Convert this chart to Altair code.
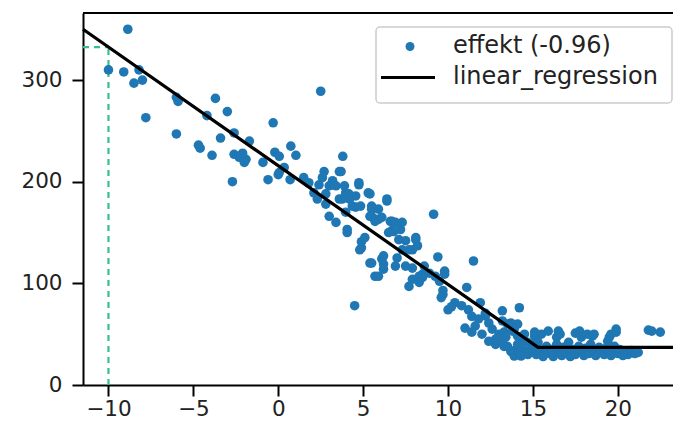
import altair as alt
import pandas as pd

# ---- scatter data ----
pts_x = [
    -10.0, -9.1, -8.86, -8.5, -8.2, -8.0, -7.8,
    -6.0, -5.9, -6.0, -4.7, -4.6, -4.2, -3.9, -3.7, -3.4, -3.0, -2.7, -2.6, -2.6,
    -2.3, -2.3, -2.1, -1.9, -1.7, -2.0, -0.9, -0.6, -0.3, -0.2, 0.06, 0.0, 0.35,
    0.06, 0.74, 1.04, 0.7, 1.5, 1.8, 2.1, 2.5, 2.7, 2.6, 2.4, 3.0, 3.2, 2.8, 2.3,
    2.8, 3.2, 3.4, 3.6, 3.8, 3.7,
    3.0, 3.4, 3.6, 3.9, 3.97, 3.97, 4.06, 4.2, 4.36, 4.56, 4.56, 4.75, 4.16, 3.77,
    4.06, 4.9, 4.9, 4.8, 4.85, 5.1, 5.4, 5.4, 5.4, 5.5, 5.5, 5.5, 5.7, 5.7, 5.9,
    5.9, 6.1, 6.1, 6.2, 6.2, 6.2, 5.7, 5.5, 5.9, 4.5, 6.4, 6.4, 5.3, 4.75,
    6.6, 6.7, 6.9, 6.7, 6.8, 6.5, 7.2, 7.3, 7.1, 7.5, 8.1, 8.1, 8.2, 7.9, 7.7, 7.3,
    7.0, 6.9, 7.5, 7.9, 8.6, 8.9, 9.8, 8.5, 8.3, 7.7, 7.9, 8.5, 8.3, 9.25, 9.8,
    9.5, 9.15, 9.4, 9.7, 9.6,
    10.4, 10.8, 10.0, 11.2, 11.1, 11.5, 11.9, 14.2, 13.2, 12.2, 11.8, 12.4, 11.6,
    12.6, 11.0, 11.4, 12.0, 13.7, 13.9, 13.3, 12.8, 13.2, 13.5, 14.0, 14.5, 14.9,
    15.1, 14.3, 12.4, 12.8, 14.1, 13.2, 13.5, 13.8, 13.0, 13.4, 14.1, 13.3, 13.7,
    14.3, 14.7, 13.9, 14.1, 14.5, 14.7, 14.3, 14.6, 14.3, 10.2, 9.7, 11.4, 12.2,
    15.1, 15.5, 15.9, 16.4, 16.5, 16.6, 17.5, 17.75, 17.85, 18.2, 18.5, 18.6, 19.4,
    19.5, 19.6, 19.9, 19.9,
    15.0, 15.2, 15.3, 15.5, 15.6, 15.8, 16.0, 16.1, 16.2, 16.4, 16.5, 16.7, 16.8,
    17.0, 17.1, 17.2, 17.4, 17.5, 17.7, 17.8, 18.0, 18.1, 18.3, 18.4, 18.6, 18.7,
    18.9, 19.0, 19.2, 19.3, 19.5, 19.6, 19.8, 20.0, 20.1, 20.3, 20.4, 20.6, 20.8,
    21.0, 21.2,
    21.8, 22.0, 22.5,
]
pts_y = [
    310, 308, 350, 297, 310, 300, 263,
    283, 279, 247, 236, 233, 265, 226, 282, 243, 269, 200, 248, 227,
    225, 224, 228, 222, 240, 219, 219, 202, 258, 229, 225, 207, 214,
    209, 235, 226, 202, 204, 199, 189, 289, 210, 204, 197, 196, 201, 188, 183,
    178, 197, 196, 210, 225, 210,
    166, 160, 183, 196, 189, 170, 153, 183, 176, 175, 186, 197, 188, 183,
    150, 141, 135, 133, 176, 145, 188, 166, 120, 176, 173, 166, 161, 163, 173,
    163, 165, 124, 114, 127, 119, 107, 120, 107, 78, 181, 183, 189, 199,
    161, 161, 160, 152, 151, 150, 153, 160, 143, 142, 145, 143, 137, 133, 133, 133,
    125, 117, 117, 115, 117, 110, 112, 109, 107, 97, 104, 106, 101, 107, 109,
    102, 168, 126, 89, 86,
    81, 78, 74, 74, 96, 122, 81, 76, 73, 68, 65, 61, 58,
    55, 56, 52, 50, 61, 55, 52, 45, 42, 38, 35, 32, 40,
    48, 45, 43, 40, 48, 63, 60, 53, 50, 47, 40, 38, 33,
    32, 30, 28.5, 60, 50, 42, 38, 33, 28.5, 77, 93, 67.5, 70.5,
    52, 50, 53, 47, 53, 50, 51, 53, 47, 50, 48, 50, 43,
    47, 50, 55, 52,
    36, 30, 42, 34, 28, 38, 31, 35, 28, 40, 33, 29, 37,
    32, 42, 28, 35, 30, 38, 33, 29, 36, 31, 40, 34, 29,
    37, 32, 30, 36, 33, 29, 38, 31, 35, 29, 33, 30, 34,
    31, 32,
    54, 53, 52,
]

# ---- piecewise regression line ----
reg_x = [-11.5, 15.3, 23.25]
reg_y = [350.0, 37.0, 37.0]

# ---- dashed marker at x = -10 ----
mark_x = [-10.0]
mark_y = [332.5]
x_left = -11.5

legend_labels = ["effekt (-0.96)", "linear_regression"]
x_ticks = [-10, -5, 0, 5, 10, 15, 20]
y_ticks = [0, 100, 200, 300]

X_DOMAIN = [-11.5, 23.25]
Y_DOMAIN = [0, 366]
W, H = 590, 372
BLUE = "#1f77b4"
GREEN = "#35c08e"
FONT = "DejaVu Sans"

df = pd.DataFrame({"x": pts_x, "y": pts_y})
reg = pd.DataFrame({"x": reg_x, "y": reg_y})
vline = pd.DataFrame({"x": mark_x, "y": [0.0], "y1": mark_y})
hline = pd.DataFrame({"x": [x_left], "x1": mark_x, "y": mark_y})
one = pd.DataFrame({"a": [0]})

xscale = alt.Scale(domain=X_DOMAIN, nice=False, zero=False)
yscale = alt.Scale(domain=Y_DOMAIN, nice=False, zero=False)
axis_style = dict(
    title=None, grid=False, domainColor="black", domainWidth=2,
    tickColor="black", tickWidth=2, tickSize=11,
    labelFont=FONT, labelFontSize=21.5, labelColor="#222",
)
xaxis = alt.Axis(values=x_ticks, labelPadding=2, **axis_style)
yaxis = alt.Axis(values=y_ticks, labelPadding=10, **axis_style)

X = alt.X("x:Q", scale=xscale, axis=xaxis)
Y = alt.Y("y:Q", scale=yscale, axis=yaxis)

scatter = alt.Chart(df).mark_circle(size=92, color=BLUE, opacity=1).encode(x=X, y=Y)

reg_line = alt.Chart(reg).mark_line(color="black", strokeWidth=3.2).encode(x=X, y=Y)

v_dash = alt.Chart(vline).mark_rule(color=GREEN, strokeWidth=2.2, strokeDash=[6, 5]).encode(
    x=X, y=Y, y2="y1:Q"
)
h_dash = alt.Chart(hline).mark_rule(color=GREEN, strokeWidth=2.2, strokeDash=[6, 5]).encode(
    x=X, x2="x1:Q", y=Y
)

top_spine = alt.Chart(one).mark_rule(color="black", strokeWidth=2).encode(
    x=alt.value(0), x2=alt.value(W), y=alt.value(0)
)

# ---- legend (drawn manually, matplotlib style) ----
leg_box = alt.Chart(one).mark_rect(
    fill="white", fillOpacity=0.85, stroke="#cccccc", strokeWidth=1.5, cornerRadius=4
).encode(x=alt.value(293), x2=alt.value(589), y=alt.value(14), y2=alt.value(90))
leg_dot = alt.Chart(one).mark_circle(size=80, color=BLUE, opacity=1).encode(
    x=alt.value(327), y=alt.value(33.5)
)
leg_line = alt.Chart(one).mark_rule(color="black", strokeWidth=3.2).encode(
    x=alt.value(298), x2=alt.value(352), y=alt.value(64.5)
)
leg_text1 = alt.Chart(one).mark_text(
    align="left", baseline="middle", font=FONT, fontSize=24, color="#222",
    text=legend_labels[0],
).encode(x=alt.value(370), y=alt.value(33))
leg_text2 = alt.Chart(one).mark_text(
    align="left", baseline="middle", font=FONT, fontSize=24, color="#222",
    text=legend_labels[1],
).encode(x=alt.value(370), y=alt.value(64))

chart = alt.layer(
    v_dash, h_dash, scatter, reg_line, top_spine,
    leg_box, leg_dot, leg_line, leg_text1, leg_text2,
).properties(
    width=W, height=H,
    background="white",
    padding={"left": 75, "top": 5, "right": 0, "bottom": 35},
    autosize=alt.AutoSizeParams(type="none"),
).configure_view(stroke=None)

chart.save("out.html", embed_options={"renderer": "svg", "actions": False})
